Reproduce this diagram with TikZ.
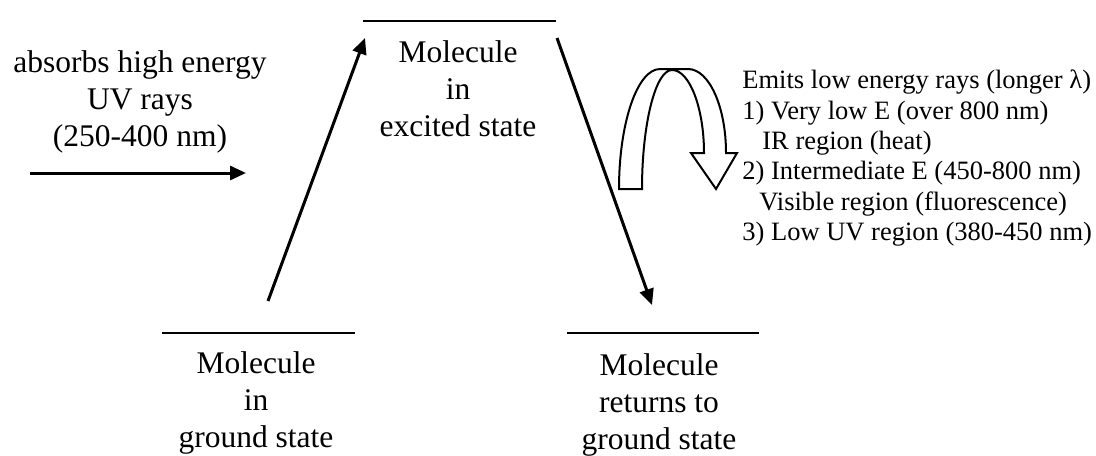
\documentclass[tikz,border=0pt]{standalone}
\usepackage{fontspec}
\setmainfont{Liberation Serif}
\usetikzlibrary{arrows.meta}
\definecolor{ink}{HTML}{000000}

\tikzset{
    levelline/.style={draw=ink, line width=1.2pt},
    transition/.style={draw=ink, line width=1.5pt, -{Triangle[length=8pt, width=7pt]}},
    statetext/.style={inner sep=0pt, anchor=north, align=center,
                      font=\fontsize{15.75}{18.5}\selectfont},
    emittext/.style={inner sep=0pt, anchor=north west, align=left,
                     font=\fontsize{13.25}{15.2}\selectfont},
    emitarrow/.style={draw=ink, line width=1pt, fill=white, line join=miter}
}

\begin{document}
\begin{tikzpicture}[x=0.5pt, y=-0.5pt]
    \useasboundingbox (0,0) rectangle (1096,455);

    % energy levels
    \draw[levelline] (363,21) coordinate (excited-l) -- (556,21) coordinate (excited-r);
    \draw[levelline] (162,333) coordinate (ground-l) -- (355,333) coordinate (ground-r);
    \draw[levelline] (567,333) coordinate (return-l) -- (759,333) coordinate (return-r);

    \node[statetext] (excited) at (458,40.5) {Molecule\\in\\excited state};
    \node[statetext] (ground) at (256,351.5) {Molecule\\in\\ground state};
    \node[statetext] (returned) at (659,353.5) {Molecule\\returns to\\ground state};
    \node[statetext] (uvtext) at (140,50.5) {absorbs high energy\\UV rays\\(250-400 nm)};

    % transitions
    \coordinate (uv-in) at (30,173);
    \coordinate (uv-out) at (246,173);
    \coordinate (absorb-from) at (268,301);
    \coordinate (absorb-to) at (365,38);
    \coordinate (emit-from) at (557,38);
    \coordinate (emit-to) at (652,305);

    \draw[transition] (uv-in) -- (uv-out);
    \draw[transition] (absorb-from) -- (absorb-to);
    \draw[transition] (emit-from) -- (emit-to);

    % hollow u-turn arrow
    \draw[emitarrow] (619,189) .. controls (619,122.7) and (637.4,69) .. (660,69)
        -- (688,69) .. controls (709,69) and (726,106.6) .. (726,153)
        -- (737,153) -- (716,189) -- (691,153) -- (704,153)
        .. controls (704,108.3) and (689.7,70) .. (672,70)
        .. controls (655.4,70) and (642,124.4) .. (642,189) -- cycle;

    \node[emittext] (emits) at (742,69.7)
      {Emits low energy rays (longer λ)\\
       1) Very low E (over 800 nm)\\
       \hspace*{10pt}IR region (heat)\\
       2) Intermediate E (450-800 nm)\\
       \hspace*{8.5pt}Visible region (fluorescence)\\
       3) Low UV region (380-450 nm)};
\end{tikzpicture}
\end{document}
